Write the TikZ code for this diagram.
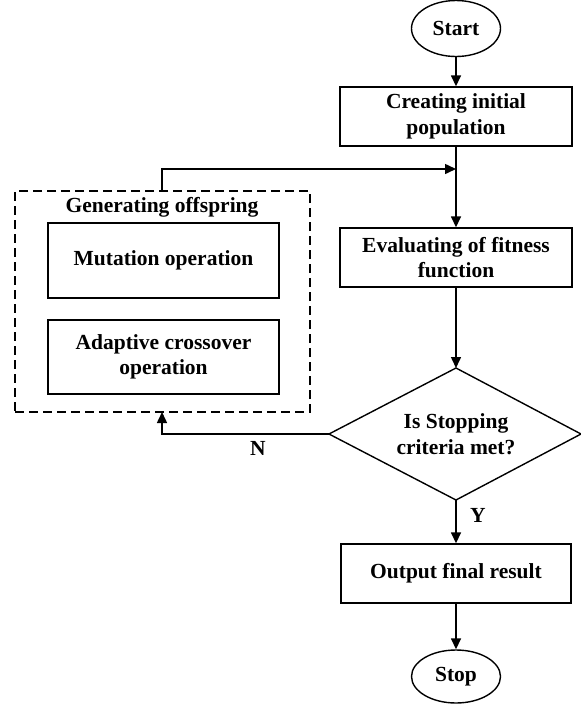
\documentclass[tikz,border=0pt]{standalone}
\usepackage{fontspec}
\setmainfont{Liberation Serif}
\usetikzlibrary{shapes.geometric,arrows.meta}
\begin{document}
\begin{tikzpicture}[x=1pt,y=-1pt,
  every node/.style={font=\fontsize{21.5}{25.5}\selectfont\bfseries, inner sep=0pt, align=center},
  proc/.style={draw, rectangle, line width=1.4pt},
  term/.style={draw, ellipse, line width=1.4pt, minimum width=89pt},
  conn/.style={line width=1.5pt, -{Triangle[length=11pt,width=10pt]}},
  grp/.style={draw, rectangle, line width=1.4pt, dash pattern=on 9pt off 5pt}
]
\useasboundingbox (0,0) rectangle (581,710);
% terminals
\node[term, minimum height=56pt] (start) at (456,28.5) {Start};
\node[term, minimum height=53pt] (stop) at (456,676.5) {Stop};
% main process boxes
\node[proc, minimum width=232pt, minimum height=59pt] (pop) at (456,116.5) {Creating initial\\population};
\node[proc, minimum width=232pt, minimum height=59pt] (eval) at (456,257.5) {Evaluating of fitness\\function};
\node[proc, minimum width=230pt, minimum height=59pt] (out) at (456,573.5) {Output final result};
% decision diamond
\coordinate (dT) at (456,368);
\coordinate (dB) at (456,500);
\coordinate (dL) at (329,434);
\coordinate (dR) at (581,434);
\draw[line width=1.4pt] (dT) -- (dR) -- (dB) -- (dL) -- cycle;
\node (dec) at (456,434) {Is Stopping\\criteria met?};
% generating offspring group
\node[grp, minimum width=295pt, minimum height=221pt] (grp) at (162.5,301.5) {};
\node (grptitle) at (162,207) {Generating offspring};
\node[proc, minimum width=231pt, minimum height=75pt] (mut) at (163.5,260.5) {Mutation operation};
\node[proc, minimum width=231pt, minimum height=74pt] (ada) at (163.5,357) {Adaptive crossover\\operation};
% connectors
\coordinate (join) at (456,169);
\coordinate (fbtop) at (162,169);
\coordinate (fbstart) at (162,191);
\coordinate (nturn) at (162,434);
\coordinate (nend) at (162,412);
\draw[conn] (start) -- (pop);
\draw[conn] (pop) -- (eval);
\draw[conn] (fbstart) -- (fbtop) -- (join);
\draw[conn] (eval) -- (dT);
\draw[conn] (dL) -- (nturn) -- (nend);
\draw[conn] (dB) -- (out);
\draw[conn] (out) -- (stop);
% labels
\node (nlab) at (258,448) {N};
\node (ylab) at (478,515) {Y};
\end{tikzpicture}
\end{document}
